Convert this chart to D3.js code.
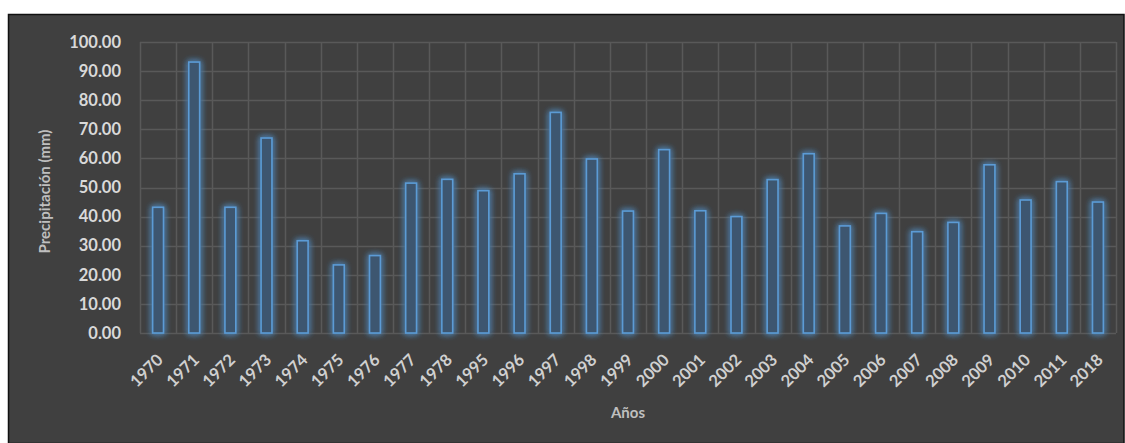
<!DOCTYPE html>
<html>
<head>
<meta charset="utf-8">
<script src="https://cdn.jsdelivr.net/npm/d3@7"></script>
<style>
  html, body { margin: 0; padding: 0; background: #ffffff; }
  svg { display: block; }
  text { font-family: Lato, "Open Sans", sans-serif; font-weight: 700; }
</style>
</head>
<body>
<svg id="chart" width="1125" height="443"></svg>
<script>
// Annual precipitation (mm) by year
const years = ["1970","1971","1972","1973","1974","1975","1976","1977","1978",
  "1995","1996","1997","1998","1999","2000","2001","2002","2003","2004",
  "2005","2006","2007","2008","2009","2010","2011","2018"];
const precipitation = [43.2, 93.1, 43.2, 67.0, 31.7, 23.4, 26.6, 51.5, 52.8,
  48.9, 54.7, 75.8, 59.8, 41.9, 63.0, 42.0, 40.0, 52.7, 61.6,
  36.8, 41.1, 34.8, 38.0, 57.8, 45.7, 52.0, 45.0];
const yTicks = [0, 10, 20, 30, 40, 50, 60, 70, 80, 90, 100];

const svg = d3.select("#chart");
const W = 1125, H = 443;
const margin = { left: 140, right: 9, top: 42, bottom: 110 };

// Dark chart frame
svg.append("rect")
  .attr("x", 8.5).attr("y", 14.5)
  .attr("width", W - 9 - 0.5).attr("height", H - 14)
  .attr("fill", "#404040").attr("stroke", "#111").attr("stroke-width", 1.5);

const x = d3.scaleBand().domain(years)
  .range([margin.left, W - margin.right]).paddingInner(0).paddingOuter(0);
const y = d3.scaleLinear().domain([0, 100]).range([333, margin.top]);

// Glow for the bar outlines
const defs = svg.append("defs");
const glow = defs.append("filter").attr("id", "glow")
  .attr("x", "-100%").attr("y", "-20%").attr("width", "300%").attr("height", "140%");
glow.append("feGaussianBlur").attr("in", "SourceGraphic").attr("stdDeviation", 3).attr("result", "b");
const merge = glow.append("feMerge");
merge.append("feMergeNode").attr("in", "b");
merge.append("feMergeNode").attr("in", "b");
merge.append("feMergeNode").attr("in", "SourceGraphic");

// Horizontal gridlines
const grid = svg.append("g");
grid.selectAll("line.h").data(yTicks).join("line")
  .attr("x1", margin.left).attr("x2", W - margin.right)
  .attr("y1", d => Math.round(y(d)) + 0.5).attr("y2", d => Math.round(y(d)) + 0.5)
  .attr("stroke", "#595959").attr("stroke-width", 1.5);

// Vertical gridlines at category boundaries
const bounds = years.map(d => x(d)).concat([x.range()[1]]);
grid.selectAll("line.v").data(bounds).join("line")
  .attr("x1", d => Math.round(d) + 0.5).attr("x2", d => Math.round(d) + 0.5)
  .attr("y1", y(100)).attr("y2", y(0))
  .attr("stroke", "#595959").attr("stroke-width", 1.5);

// Bars
const bw = x.bandwidth() * 0.3;
svg.append("g").attr("filter", "url(#glow)")
  .selectAll("rect").data(years).join("rect")
  .attr("x", (d) => x(d) + (x.bandwidth() - bw) / 2)
  .attr("y", (d, i) => y(precipitation[i]))
  .attr("width", bw)
  .attr("height", (d, i) => y(0) - y(precipitation[i]))
  .attr("fill", "#3d5670")
  .attr("stroke", "#5b9bd5")
  .attr("stroke-width", 1.6);

// Y axis labels
const yAxis = d3.axisLeft(y).tickValues(yTicks).tickFormat(d3.format(".2f")).tickSize(0).tickPadding(0);
const ya = svg.append("g").attr("transform", "translate(121,0)").call(yAxis);
ya.select(".domain").remove();
ya.selectAll("text").attr("fill", "#d9d9d9").attr("font-size", 16.5)
  .style("font-family", "Lato, sans-serif").style("font-weight", 700);

// X axis labels (rotated)
const xAxis = d3.axisBottom(x).tickSize(0).tickPadding(0);
const xa = svg.append("g").attr("transform", `translate(0,${y(0)})`).call(xAxis);
xa.select(".domain").remove();
xa.selectAll("text")
  .attr("fill", "#d0d0d0").attr("font-size", 16.5)
  .style("font-family", "Lato, sans-serif").style("font-weight", 700)
  .attr("text-anchor", "end")
  .attr("y", 0)
  .attr("dy", 0)
  .attr("transform", "translate(6,28) rotate(-45)");

// Axis titles
svg.append("text")
  .attr("transform", `translate(50,${(y(0) + y(100)) / 2 + 4}) rotate(-90)`)
  .attr("text-anchor", "middle").attr("fill", "#bfbfbf").attr("font-size", 15)
  .text("Precipitación (mm)");

svg.append("text")
  .attr("x", (x.range()[0] + x.range()[1]) / 2).attr("y", 418)
  .attr("text-anchor", "middle").attr("fill", "#bfbfbf").attr("font-size", 15)
  .text("Años");
</script>
</body>
</html>
